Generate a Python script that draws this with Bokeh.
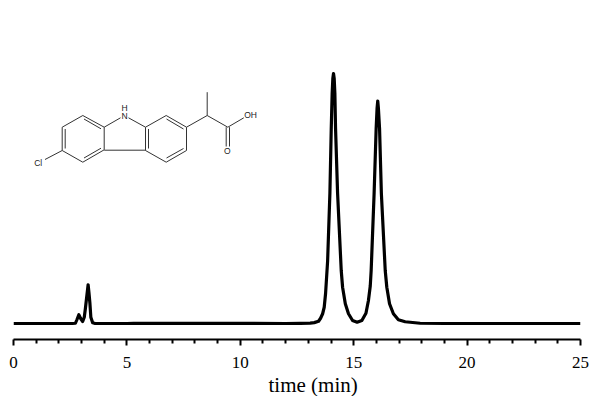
from bokeh.plotting import figure
from bokeh.models import Range1d, FixedTicker, LinearAxis, Title
from bokeh.core.properties import value
from bokeh.embed import file_html
from bokeh.resources import INLINE

time_min = [0, 2.6, 2.73, 2.8, 2.88, 2.96, 3.05, 3.12, 3.17, 3.22, 3.29, 3.33, 3.37, 3.41, 3.49, 3.6, 5, 5.3, 8, 12.0, 12.64, 13.08, 13.26,
            13.45, 13.54, 13.63, 13.70, 13.76, 13.85, 13.95, 14.01, 14.05, 14.08, 14.11, 14.14, 14.17, 14.2, 14.29, 14.45, 14.51, 14.63, 14.77, 14.95,
            15.15, 15.36, 15.54, 15.65, 15.73, 15.77, 15.9, 15.99, 16.03, 16.06, 16.09, 16.14, 16.22, 16.39, 16.46, 16.58, 16.75,
            16.97, 17.27, 17.93, 19, 25]
signal = [0, 0, 0.1, 1.6, 3.5, 2.0, 0.8, 2.5, 6, 10, 15.5, 12, 8, 2.5, 0.3, 0, 0, 0.1, 0.05, 0, 0.05, 0.15, 0.35,
          0.9, 2.1, 3.9, 6.5, 12, 25, 52, 78, 92, 98, 100, 98, 92, 78, 52, 21.2, 14.5, 7.9, 3.9, 1.2,
          0.5, 1.2, 4.1, 9.2, 15, 21.2, 52, 78, 86, 89, 86, 78, 52, 21.2, 14.5, 7.9, 3.9,
          1.5, 0.7, 0.1, 0, 0]
x_ticks = [0, 5, 10, 15, 20, 25]
x_minor = [t for t in range(26) if t % 5]
x_title = "time (min)"

# structure drawing, in page pixels
bond_x0 = [82.3, 103.7, 103.7, 82.3, 61.7, 61.7, 145, 145, 165.7, 186, 186, 165.7, 103.7, 103.7, 128,
           83.5, 100.5, 64.7, 148, 166, 183, 186, 206.7, 206.7, 227.3, 61.7]
bond_y0 = [115, 126.7, 149.3, 161.7, 150, 126.7, 126.7, 150, 161.7, 150, 126.7, 115, 149.7, 126.7, 117.3,
           118.5, 147.7, 148, 128.5, 157.5, 128.5, 126.7, 115, 115, 126.7, 150]
bond_x1 = [103.7, 103.7, 82.3, 61.7, 61.7, 82.3, 145, 165.7, 186, 186, 165.7, 145, 145, 120, 145,
           100.5, 83.5, 64.7, 148, 183, 166, 206.7, 206.7, 227.3, 243.3, 44.5]
bond_y1 = [126.7, 149.3, 161.7, 150, 126.7, 115, 150, 161.7, 150, 126.7, 115, 126.7, 149.7, 117.3, 126.7,
           128.3, 157.5, 128.5, 148, 148, 118.5, 115, 91.7, 126.7, 117.3, 159]
bond2_x = [225.7, 229]
bond2_y0 = [126.7, 126.7]
bond2_y1 = [146, 146]
atom_x = [124, 124, 37.7, 250, 226.7]
atom_y = [115.7, 107.7, 162.3, 114.3, 150]
atom_text = ["N", "H", "Cl", "OH", "O"]

p = figure(width=592, height=396, frame_width=567, frame_height=331,
           min_border_left=13, min_border_right=12, min_border_top=8, min_border_bottom=0,
           x_range=Range1d(0, 25), y_range=Range1d(-6.4, 126), y_axis_type=None, x_axis_type=None,
           toolbar_location=None, output_backend="svg", outline_line_color=None)
p.grid.visible = False
p.background_fill_color = "white"
p.border_fill_color = "white"

ax = LinearAxis(ticker=FixedTicker(ticks=x_ticks, minor_ticks=x_minor))
ax.axis_line_color = "black"
ax.axis_line_width = 2
ax.major_tick_line_width = 2
ax.minor_tick_line_width = 2
ax.major_tick_in = 0
ax.major_tick_out = 6
ax.minor_tick_in = 0
ax.minor_tick_out = 4
ax.major_label_text_font = "Liberation Serif"
ax.major_label_text_font_size = "17px"
ax.major_label_text_color = "black"
ax.major_label_standoff = 11
p.add_layout(ax, "below")

p.add_layout(Title(text=x_title, align="left", offset=255, standoff=0,
                   text_font="Liberation Serif", text_font_style="normal",
                   text_font_size="21px", text_color="black"), "below")

p.extra_x_ranges["page_x"] = Range1d(13, 580)
p.extra_y_ranges["page_y"] = Range1d(339, 8)

p.line(time_min, signal, line_color="black", line_width=3.2, line_join="round", line_cap="butt")

p.segment(bond_x0, bond_y0, bond_x1, bond_y1, line_color="#333333", line_width=1,
          x_range_name="page_x", y_range_name="page_y")
p.segment(bond2_x, bond2_y0, bond2_x, bond2_y1, line_color="#333333", line_width=1,
          x_range_name="page_x", y_range_name="page_y")
p.text(atom_x, atom_y, text=atom_text, text_font=value("Liberation Sans"), text_font_size="8.5px",
       text_color="#222222", text_align="center", text_baseline="middle",
       x_range_name="page_x", y_range_name="page_y")

open("out.html", "w").write(file_html(p, INLINE))
